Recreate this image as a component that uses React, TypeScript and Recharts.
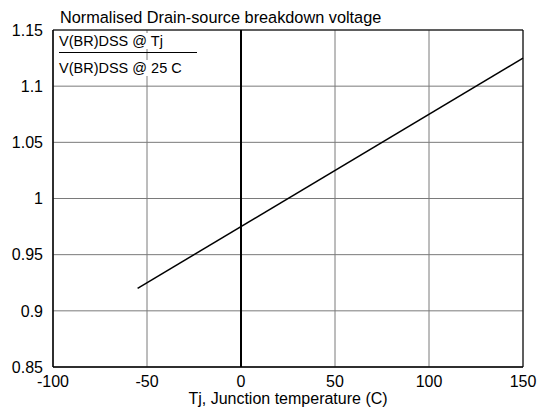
import { ComposedChart, Line, XAxis, YAxis, CartesianGrid, ReferenceLine, ReferenceArea } from "recharts";

const temps = [-55, 150];
const ratio = [0.92, 1.125];
const xTicks = [-100, -50, 0, 50, 100, 150];
const yTicks = [0.85, 0.9, 0.95, 1, 1.05, 1.1, 1.15];

const data = temps.map((t, i) => ({ t, v: ratio[i] }));

const FONT = "'Liberation Sans', Arial, sans-serif";

export default function App() {
  return (
    <div style={{ position: "absolute", left: 0, top: 0, width: 539, height: 412, background: "#fff", fontFamily: FONT }}>
      <ComposedChart width={539} height={412} data={data} margin={{ top: 30, right: 16, left: 0, bottom: 0 }}>
        <CartesianGrid stroke="#7a7a7a" strokeWidth={1} />
        <XAxis
          dataKey="t"
          type="number"
          domain={[-100, 150]}
          ticks={xTicks}
          tick={{ fill: "#000", fontSize: 16, fontFamily: FONT }}
          tickLine={false}
          axisLine={{ stroke: "#000" }}
          height={45}
          tickMargin={3}
          interval={0}
          label={{ value: "Tj, Junction temperature (C)", position: "insideBottom", offset: 8, fill: "#000", fontSize: 16, fontFamily: FONT }}
        />
        <YAxis
          type="number"
          domain={[0.85, 1.15]}
          ticks={yTicks}
          tickFormatter={(v: number) => String(v)}
          tick={{ fill: "#000", fontSize: 16, fontFamily: FONT }}
          tickLine={false}
          axisLine={{ stroke: "#000" }}
          width={53}
          tickMargin={4}
          interval={0}
        />
        <ReferenceLine x={0} stroke="#000" strokeWidth={2} />
        <ReferenceArea x1={-100} x2={150} y1={0.85} y2={1.15} fill="none" stroke="#000" strokeWidth={1} />
        <Line dataKey="v" stroke="#000" strokeWidth={1.5} dot={false} isAnimationActive={false} />
      </ComposedChart>
      <div style={{ position: "absolute", left: 60, top: 8, fontSize: 16.3, lineHeight: "18px", color: "#000", whiteSpace: "nowrap" }}>
        Normalised Drain-source breakdown voltage
      </div>
      <div style={{ position: "absolute", left: 58, top: 33, fontSize: 14.5, lineHeight: "16px", background: "#fff", color: "#000", whiteSpace: "nowrap", padding: "0 1px" }}>
        V(BR)DSS @ Tj
      </div>
      <div style={{ position: "absolute", left: 59, top: 52, width: 138, height: 1, background: "#000" }} />
      <div style={{ position: "absolute", left: 58, top: 60, fontSize: 14.5, lineHeight: "16px", background: "#fff", color: "#000", whiteSpace: "nowrap", padding: "0 1px" }}>
        V(BR)DSS @ 25 C
      </div>
    </div>
  );
}
